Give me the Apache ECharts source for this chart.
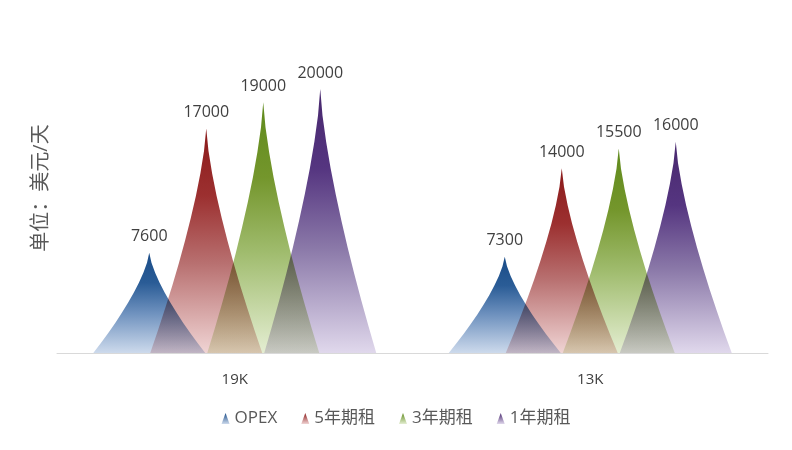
<!DOCTYPE html>
<html><head><meta charset="utf-8">
<script src="https://cdn.jsdelivr.net/npm/echarts@6/dist/echarts.min.js"></script>
<style>html,body{margin:0;padding:0;background:#fff}#c{width:792px;height:450px}</style>
</head><body><div id="c"></div>
<script>
const categories = ['19K', '13K'];
const seriesNames = ['OPEX', '5年期租', '3年期租', '1年期租'];
const opex = [7600, 7300];
const lease5 = [17000, 14000];
const lease3 = [19000, 15500];
const lease1 = [20000, 16000];

const values = [opex, lease5, lease3, lease1];
const palette = [
  ['#1a4c88', '#2a5c96', '#6e91be', '#cddaec'],
  ['#8b1a1a', '#9c3030', '#b87070', '#f0d4d4'],
  ['#5f8a1c', '#74962c', '#a0bc6e', '#e4eed2'],
  ['#48286e', '#553580', '#8a78a8', '#e0d8ec']
];
const spike = 'path://M0,100 L6.85,90 L13.4,80 L19.65,70 L25.55,60 L31.05,50 L36.15,40 L40.75,30 L44.75,20 L48,10 L50,0 L52,10 L55.25,20 L59.25,30 L63.85,40 L68.95,50 L74.45,60 L80.35,70 L86.6,80 L93.15,90 L100,100 Z';
const font = '"Open Sans","Noto Sans CJK SC",sans-serif';
const grad = p => new echarts.graphic.LinearGradient(0, 0, 0, 1, [
  {offset: 0, color: p[0]}, {offset: 0.3, color: p[1]}, {offset: 0.6, color: p[2]}, {offset: 1, color: p[3]}
]);

const chart = echarts.init(document.getElementById('c'), null, {renderer: 'canvas'});
chart.setOption({
  animation: false,
  grid: {left: 57, right: 24, top: 23, bottom: 97},
  legend: {
    bottom: 18, left: 'center', itemWidth: 8, itemHeight: 11, itemGap: 24,
    textStyle: {color: '#595959', fontSize: 17, fontFamily: font},
    data: seriesNames.map((n, i) => ({name: n, icon: 'triangle', itemStyle: {color: new echarts.graphic.LinearGradient(0, 0, 0, 1, [
        {offset: 0, color: palette[i][0]}, {offset: 1, color: palette[i][3]}])}}))
  },
  xAxis: {
    type: 'category', data: categories,
    axisLine: {lineStyle: {color: '#d9d9d9'}}, axisTick: {show: false},
    axisLabel: {color: '#404040', fontSize: 15, margin: 19, fontFamily: font}
  },
  yAxis: {
    type: 'value', min: 0, max: 25000,
    name: '单位：美元/天', nameLocation: 'middle', nameRotate: 90, nameGap: 6,
    nameTextStyle: {color: '#595959', fontSize: 20, fontFamily: font},
    axisLine: {show: false}, axisTick: {show: false}, axisLabel: {show: false}, splitLine: {show: false}
  },
  series: values.map((v, i) => ({
    name: seriesNames[i], type: 'pictorialBar', data: v,
    barWidth: 57, barGap: '0%', symbol: spike, symbolSize: [112, '100%'],
    itemStyle: {color: grad(palette[i])},
    label: {show: true, position: 'top', distance: 8, color: '#404040', fontSize: 16, fontFamily: font},
    z: 10 + i
  }))
});
// multiply blending so overlapping spikes darken like the original
const zr = chart.getZr();
zr.storage.getDisplayList(true).forEach(el => {
  if (el.type === 'path' || el.shape) { el.style.blend = 'multiply'; el.markRedraw && el.markRedraw(); }
});
zr.refreshImmediately();
</script></body></html>
